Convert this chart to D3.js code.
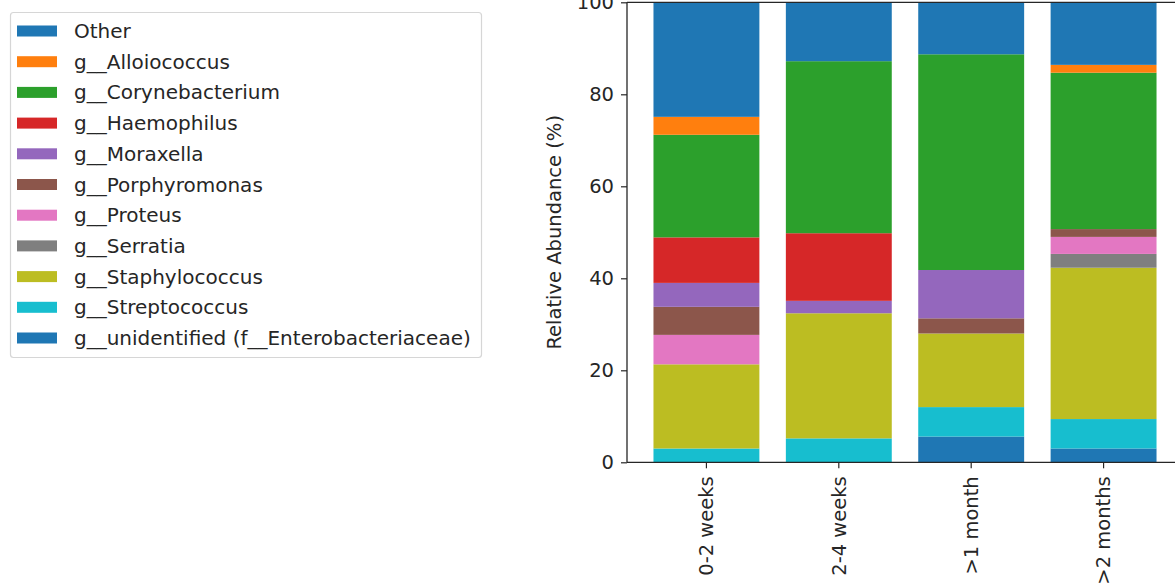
<!DOCTYPE html>
<html>
<head>
<meta charset="utf-8">
<script src="https://cdn.jsdelivr.net/npm/d3@7"></script>
<style>
  html, body { margin: 0; padding: 0; background: #fff; }
  svg { display: block; font-family: "DejaVu Sans", sans-serif; }
</style>
</head>
<body>
<svg id="chart" width="1175" height="588"></svg>
<script>
// Sampling periods along the x axis
const categories = ["0-2 weeks", "2-4 weeks", ">1 month", ">2 months"];

// Taxa in legend order (top of the stack first)
const taxa = [
  "Other",
  "g__Alloiococcus",
  "g__Corynebacterium",
  "g__Haemophilus",
  "g__Moraxella",
  "g__Porphyromonas",
  "g__Proteus",
  "g__Serratia",
  "g__Staphylococcus",
  "g__Streptococcus",
  "g__unidentified (f__Enterobacteriaceae)"
];

// Relative abundance (%) per taxon, one value per period
const other           = [24.9, 12.8, 11.3, 13.6];
const alloiococcus    = [3.9, 0.0, 0.0, 1.7];
const corynebacterium = [22.3, 37.4, 46.9, 34.0];
const haemophilus     = [9.9, 14.7, 0.0, 0.0];
const moraxella       = [5.2, 2.7, 10.5, 0.0];
const porphyromonas   = [6.1, 0.0, 3.3, 1.7];
const proteus         = [6.4, 0.0, 0.0, 3.7];
const serratia        = [0.0, 0.0, 0.0, 3.0];
const staphylococcus  = [18.3, 27.2, 16.0, 32.9];
const streptococcus   = [3.0, 5.2, 6.4, 6.4];
const enterobacteriaceae = [0.0, 0.0, 5.6, 3.0];

const yTicks = [0, 20, 40, 60, 80, 100];

const seriesValues = [
  other, alloiococcus, corynebacterium, haemophilus, moraxella,
  porphyromonas, proteus, serratia, staphylococcus, streptococcus,
  enterobacteriaceae
];

const palette = ["#1f77b4", "#ff7f0e", "#2ca02c", "#d62728", "#9467bd",
                 "#8c564b", "#e377c2", "#7f7f7f", "#bcbd22", "#17becf", "#1f77b4"];

// Row records for d3.stack
const rows = categories.map((c, i) => {
  const r = { category: c };
  taxa.forEach((t, k) => { r[t] = seriesValues[k][i]; });
  return r;
});

const stackKeys = taxa.slice().reverse(); // bottom of the bar first
const color = d3.scaleOrdinal().domain(taxa).range(palette);

const svg = d3.select("#chart");
const textColor = "#262626";
const fontSize = 19.5;
const legendFontSize = 20;

// Plot frame
const plotLeft = 627, plotRight = 1183, plotTop = 2.3, plotBottom = 462.3;

const x = d3.scaleBand()
  .domain(categories)
  .range([plotLeft, plotRight])
  .paddingInner(0.2)
  .paddingOuter(0.2);

const y = d3.scaleLinear().domain([0, 100]).range([plotBottom, plotTop]);

const stacked = d3.stack().keys(stackKeys)(rows);

svg.append("g")
  .selectAll("g")
  .data(stacked)
  .join("g")
  .attr("fill", d => color(d.key))
  .selectAll("rect")
  .data(d => d)
  .join("rect")
  .attr("x", d => x(d.data.category))
  .attr("width", x.bandwidth())
  .attr("y", d => y(d[1]))
  .attr("height", d => Math.max(0, y(d[0]) - y(d[1])));

// Y axis
const yAxis = svg.append("g")
  .attr("transform", `translate(${plotLeft},0)`)
  .call(d3.axisLeft(y).tickValues(yTicks).tickSize(6).tickPadding(7).tickFormat(d3.format("d")));
yAxis.select(".domain").remove();
yAxis.selectAll(".tick line").attr("stroke", textColor).attr("stroke-width", 1.2);
yAxis.selectAll(".tick text")
  .attr("fill", textColor)
  .style("font-size", fontSize + "px")
  .style("font-family", "DejaVu Sans");

// X axis
const xAxis = svg.append("g")
  .attr("transform", `translate(0,${plotBottom})`)
  .call(d3.axisBottom(x).tickSize(6).tickPadding(0));
xAxis.select(".domain").remove();
xAxis.selectAll(".tick line").attr("stroke", textColor).attr("stroke-width", 1.2);
xAxis.selectAll(".tick text")
  .attr("fill", textColor)
  .style("font-size", fontSize + "px")
  .style("font-family", "DejaVu Sans")
  .attr("transform", "rotate(-90)")
  .attr("x", -14)
  .attr("y", 0)
  .attr("dy", "0.35em")
  .attr("text-anchor", "end");

// Frame spines
const spine = svg.append("g").attr("fill", "none").attr("stroke", textColor).attr("stroke-width", 1.3);
spine.append("line").attr("x1", plotLeft).attr("x2", plotLeft).attr("y1", plotTop).attr("y2", plotBottom);
spine.append("line").attr("x1", plotLeft).attr("x2", plotRight).attr("y1", plotBottom).attr("y2", plotBottom);
spine.append("line").attr("x1", plotLeft).attr("x2", plotRight).attr("y1", plotTop).attr("y2", plotTop);
spine.append("line").attr("x1", plotRight).attr("x2", plotRight).attr("y1", plotTop).attr("y2", plotBottom);

// Y axis title
svg.append("text")
  .attr("transform", `translate(561,${(plotTop + plotBottom) / 2}) rotate(-90)`)
  .attr("text-anchor", "middle")
  .attr("fill", textColor)
  .style("font-size", fontSize + "px")
  .text("Relative Abundance (%)");

// Legend
const legend = svg.append("g");
legend.append("rect")
  .attr("x", 10.5).attr("y", 12.5)
  .attr("width", 471).attr("height", 345)
  .attr("rx", 3).attr("ry", 3)
  .attr("fill", "#fff")
  .attr("stroke", "#d6d6d6")
  .attr("stroke-width", 1.2);

const rowY = d3.scalePoint().domain(taxa).range([31, 338]);

const item = legend.selectAll("g.item")
  .data(taxa)
  .join("g")
  .attr("class", "item")
  .attr("transform", d => `translate(0,${rowY(d)})`);

item.append("rect")
  .attr("x", 17).attr("y", -5.5)
  .attr("width", 40).attr("height", 11)
  .attr("fill", d => color(d));

item.append("text")
  .attr("x", 74)
  .attr("dy", "0.35em")
  .attr("fill", textColor)
  .style("font-size", legendFontSize + "px")
  .text(d => d);
</script>
</body>
</html>
